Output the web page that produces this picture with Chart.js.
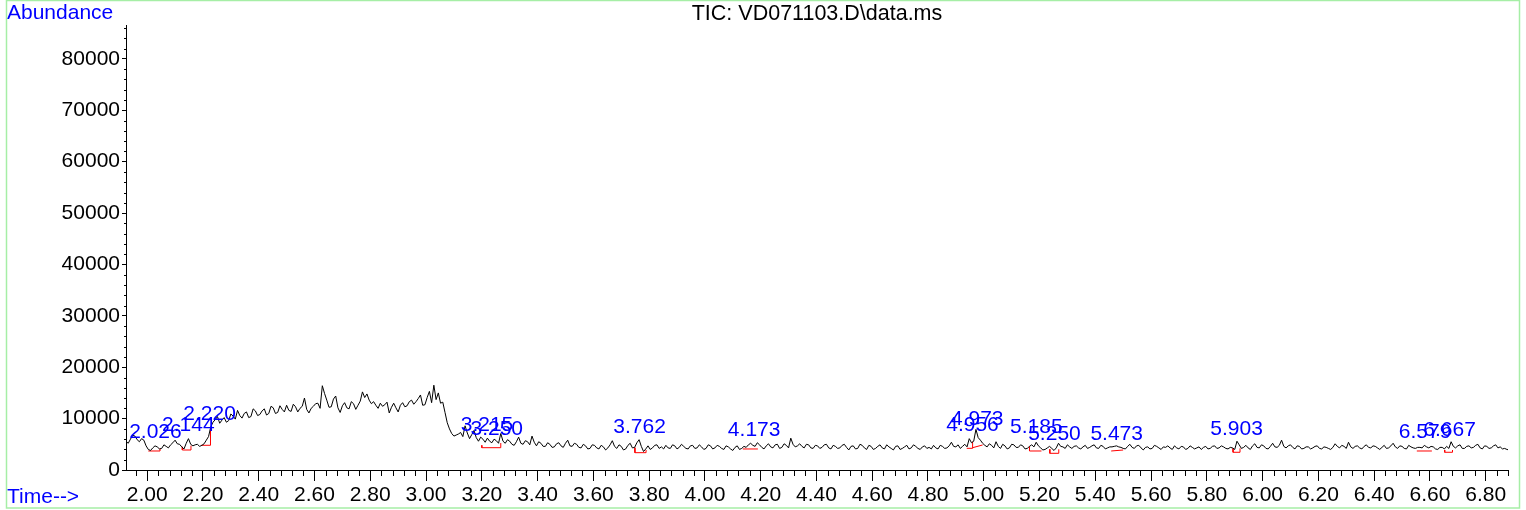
<!DOCTYPE html>
<html>
<head>
<meta charset="utf-8">
<title>TIC: VD071103.D\data.ms</title>
<script src="https://cdn.jsdelivr.net/npm/chart.js@4.4.0/dist/chart.umd.min.js"></script>
<style>
    html, body { margin: 0; padding: 0; background: #ffffff; }
    #wrap { width: 1526px; height: 510px; }
</style>
</head>
<body>
<div id="wrap"><canvas id="tic-chart" width="1526" height="510"></canvas></div>
<script>
// Scan timing of the run (minutes) and the total ion current per scan
const scanStart = 1.924;
const scanStep = 0.008;
const ticAbundance = [
    5600, 5200, 6000, 6800, 6600, 5900, 5500, 6100, 5800, 4700, 4000, 3800, 4300, 4700, 4500, 4100, 4200, 4900, 4600, 4300,
    4900, 5300, 5800, 5100, 5000, 4500, 4100, 5200, 6100, 5000, 4700, 4900, 5000, 4600, 4800, 5100, 5800, 6500, 8400, 9300,
    9800, 10400, 9100, 9700, 10200, 9300, 9600, 10900, 10500, 9900, 11600, 10600, 10100, 11000, 11300, 10200, 10400, 11900, 11500, 10600,
    10800, 11500, 11900, 10700, 11000, 12400, 12100, 11000, 11200, 12500, 11800, 11300, 12600, 11600, 11400, 12800, 12300, 11300, 12000, 12400,
    14000, 11800, 11100, 12000, 12400, 12900, 13000, 12000, 16400, 14900, 13600, 12200, 12300, 13800, 14400, 12100, 11200, 12500, 13100, 12100,
    11900, 13300, 12900, 11800, 12600, 13400, 15200, 14100, 14800, 13600, 12900, 13300, 12600, 12000, 13000, 12400, 12700, 13200, 11100, 12200,
    13000, 12100, 11300, 12600, 13100, 12300, 12500, 13300, 13600, 12800, 13300, 13900, 14600, 12600, 12700, 14100, 15300, 13100, 16500, 13700,
    15000, 13000, 13200, 11200, 9200, 8000, 7100, 6600, 6800, 7000, 7300, 6500, 8600, 7200, 6100, 6900, 7700, 6300, 5600, 6400,
    6000, 5400, 6200, 5600, 5300, 6000, 5700, 5200, 7100, 5600, 5200, 5900, 5600, 5000, 4800, 5500, 6400, 5200, 5000, 5700,
    5500, 4900, 6600, 5400, 4700, 5500, 5200, 4600, 4600, 5300, 5000, 4400, 4500, 5100, 5300, 4700, 4400, 5200, 5800, 4700,
    4600, 5200, 5000, 4400, 4300, 5000, 4700, 4100, 4200, 4900, 4800, 4300, 4100, 4800, 4500, 3900, 4300, 4900, 5700, 4600,
    4200, 4900, 4600, 3900, 4100, 4800, 5200, 4300, 4400, 5300, 5900, 4600, 3600, 4100, 4700, 4000, 4300, 4800, 4900, 4200,
    4500, 4100, 4800, 4300, 4200, 4900, 4700, 4100, 4400, 5000, 4600, 4200, 4100, 4700, 4800, 4200, 4300, 4900, 4500, 4000,
    4200, 4900, 4700, 4100, 4300, 4800, 4600, 4200, 4000, 4700, 4500, 4100, 3800, 4400, 4700, 4000, 4200, 4600, 4400, 4900,
    5200, 4800, 4600, 5300, 4900, 4400, 4100, 4700, 5100, 4500, 4300, 4900, 5000, 4200, 4400, 5100, 4800, 4300, 6200, 5000,
    4500, 4700, 5100, 4600, 4300, 5000, 4900, 4300, 4200, 4800, 4700, 4200, 4400, 4900, 5000, 4300, 4100, 4800, 4600, 4200,
    4300, 4800, 5000, 4400, 3900, 4600, 4700, 4100, 4200, 5000, 4800, 4300, 4000, 4800, 4600, 4000, 4200, 4600, 4900, 4300,
    4100, 4900, 4500, 4200, 3900, 4600, 4700, 4000, 4200, 4500, 4800, 4100, 4300, 4900, 4600, 4200, 4000, 4500, 4700, 4200,
    4400, 4100, 4800, 4300, 4100, 4800, 4600, 4200, 4300, 4700, 5400, 4600, 4500, 4900, 4200, 4600, 5000, 4500, 6100, 5300,
    5600, 7900, 6300, 5800, 5200, 4800, 4500, 5100, 4800, 4300, 5500, 4600, 4200, 5000, 4700, 4100, 4300, 5000, 4900, 4400,
    4400, 4900, 4700, 4100, 4200, 4600, 4900, 4500, 5400, 4700, 4300, 3900, 4000, 4300, 4600, 4200, 3800, 4300, 5200, 4600,
    4500, 4200, 4900, 4500, 4200, 4600, 4700, 4300, 4100, 4500, 4800, 4200, 4400, 4700, 4900, 4300, 4200, 4800, 4600, 4100,
    4300, 4500, 4500, 4600, 4700, 4500, 4400, 4200, 4100, 4600, 5000, 4400, 4200, 4700, 4800, 4300, 3900, 4400, 4500, 4100,
    4200, 4800, 4600, 4300, 4000, 4500, 4400, 4700, 4300, 4000, 4700, 4300, 4100, 4600, 4500, 4000, 4200, 4700, 4400, 4100,
    4300, 4500, 4000, 4400, 4600, 4100, 4200, 4600, 4700, 4200, 4300, 4700, 4500, 4200, 4100, 4400, 4300, 4000, 5600, 4900,
    4200, 4400, 4800, 4300, 4000, 4700, 5100, 4400, 4300, 4900, 4700, 4200, 4100, 4600, 5200, 4500, 4400, 4800, 5800, 4600,
    4300, 4700, 4900, 4400, 4100, 4700, 4600, 4100, 4200, 4500, 4500, 4100, 4300, 4600, 4700, 4200, 4100, 4500, 4400, 4200,
    4000, 4400, 5100, 4600, 4300, 4800, 4600, 4200, 5400, 4500, 4200, 4600, 4700, 4300, 4100, 4600, 4900, 4400, 4300, 4700,
    4600, 4300, 4000, 4400, 4800, 4200, 4300, 4700, 5200, 4500, 4200, 4700, 4600, 4200, 4100, 4800, 4500, 4300, 4200, 4400,
    4400, 4300, 4800, 4500, 4300, 4600, 4500, 4100, 4000, 4400, 4400, 4100, 4600, 4200, 5500, 4600, 4300, 4700, 4900, 4200,
    4200, 4600, 4700, 4300, 4400, 4800, 5000, 4300, 4100, 4700, 4600, 4200, 4300, 4700, 4900, 4300, 4500, 4100, 4200, 4000,
    3900
];

// Integrated peaks: retention time label and the abundance where the label sits
const peakTimes = [2.026, 2.144, 2.220, 3.215, 3.250, 3.762, 4.173, 4.956, 4.973, 5.185, 5.250, 5.473, 5.903, 6.579, 6.667];
const peakLabelHeights = [7300, 8760, 10800, 8660, 7880, 8270, 7690, 8660, 9830, 8270, 6910, 6910, 7880, 7300, 7690];

// Integration baselines (red): start/end time, start/end abundance, and the drop lines at each end
const baseT0 = [2.004, 2.126, 2.193, 3.200, 3.749, 4.136, 4.939, 4.960, 5.164, 5.237, 5.457, 5.894, 6.553, 6.653];
const baseT1 = [2.046, 2.157, 2.227, 3.268, 3.789, 4.190, 4.960, 4.996, 5.207, 5.269, 5.500, 5.919, 6.607, 6.681];
const baseA0 = [3700, 3890, 4810, 4340, 3370, 4090, 4220, 4340, 3700, 3250, 3700, 3450, 3700, 3450];
const baseA1 = [3700, 3890, 4810, 4340, 3370, 4090, 4220, 4870, 3700, 3250, 3890, 3450, 3700, 3450];
const dropA0 = [null, 4500, null, 4800, 4340, null, null, null, 4540, 4030, null, 4220, null, 3890];
const dropA1 = [4220, 4730, 7920, 5250, 3890, null, 5500, null, null, 4030, null, 4220, null, 3890];

const yTickValues = [0, 10000, 20000, 30000, 40000, 50000, 60000, 70000, 80000];

const xMin = 1.924;
const xMax = 6.88;
const yMax = 86600;

const FONT = 'Liberation Sans, Arial, sans-serif';

const tracePoints = ticAbundance.map(function(v, i) {
    return { x: scanStart + i * scanStep, y: v };
});

// one dataset, segments separated by null points
const baselinePoints = [];
for (let i = 0; i < baseT0.length; i++) {
    if (dropA0[i] !== null) baselinePoints.push({ x: baseT0[i], y: dropA0[i] });
    baselinePoints.push({ x: baseT0[i], y: baseA0[i] });
    baselinePoints.push({ x: baseT1[i], y: baseA1[i] });
    if (dropA1[i] !== null) baselinePoints.push({ x: baseT1[i], y: dropA1[i] });
    baselinePoints.push({ x: baseT1[i], y: null });
}

const frame = {
    id: 'frame',
    beforeDraw(chart) {
        const ctx = chart.ctx;
        ctx.save();
        ctx.fillStyle = '#ffffff';
        ctx.fillRect(0, 0, chart.width, chart.height);
        ctx.restore();
    },
    afterDraw(chart) {
        const ctx = chart.ctx;
        const area = chart.chartArea;
        const xs = chart.scales.x;
        const ys = chart.scales.y;
        ctx.save();

        // minor ticks
        ctx.strokeStyle = '#000000';
        ctx.lineWidth = 1;
        ctx.beginPath();
        for (let k = Math.ceil(xMin / 0.04); k * 0.04 <= xMax + 1e-9; k++) {
            if (k % 5 === 0) continue;
            const px = Math.round(xs.getPixelForValue(k * 0.04)) + 0.5;
            ctx.moveTo(px, area.bottom);
            ctx.lineTo(px, area.bottom + 6);
        }
        for (let v = 2000; v <= yMax; v += 2000) {
            if (v % 10000 === 0) continue;
            const py = Math.round(ys.getPixelForValue(v)) + 0.5;
            ctx.moveTo(area.left, py);
            ctx.lineTo(area.left - 2, py);
        }
        ctx.stroke();

        // peak labels
        ctx.fillStyle = '#0000ff';
        ctx.font = '21px ' + FONT;
        ctx.textAlign = 'center';
        ctx.textBaseline = 'middle';
        for (let i = 0; i < peakTimes.length; i++) {
            const px = xs.getPixelForValue(peakTimes[i]);
            const py = ys.getPixelForValue(peakLabelHeights[i]);
            ctx.fillText(peakTimes[i].toFixed(3), px + 1, py);
        }

        // title and axis names
        ctx.font = '21.5px ' + FONT;
        ctx.fillStyle = '#000000';
        ctx.fillText('TIC: VD071103.D\\data.ms', (area.left + area.right) / 2, 14);
        ctx.fillStyle = '#0000ff';
        ctx.font = '21px ' + FONT;
        ctx.textAlign = 'left';
        ctx.fillText('Abundance', 7, 13);
        ctx.fillText('Time-->', 7, 497);

        // green outer frame
        ctx.strokeStyle = '#a6eea6';
        ctx.lineWidth = 1.5;
        ctx.strokeRect(6.5, 0.5, 1513, 507.5);
        ctx.restore();
    }
};

new Chart(document.getElementById('tic-chart'), {
    type: 'line',
    data: {
        datasets: [{
            data: tracePoints,
            borderColor: '#000000',
            borderWidth: 1,
            pointRadius: 0,
            tension: 0,
            spanGaps: false
        }, {
            data: baselinePoints,
            borderColor: '#ff0000',
            borderWidth: 1,
            pointRadius: 0,
            tension: 0,
            spanGaps: false
        }]
    },
    options: {
        responsive: false,
        animation: false,
        events: [],
        layout: {
            padding: { top: 25, right: 18, left: 0, bottom: 0 }
        },
        plugins: {
            legend: { display: false },
            tooltip: { enabled: false },
            title: { display: false }
        },
        scales: {
            x: {
                type: 'linear',
                min: xMin,
                max: xMax,
                afterFit: function(scale) { scale.height = 40; },
                border: { display: true, color: '#000000', width: 1 },
                grid: {
                    display: true,
                    drawOnChartArea: false,
                    drawTicks: true,
                    tickLength: 11,
                    color: '#000000'
                },
                ticks: {
                    stepSize: 0.2,
                    includeBounds: false,
                    autoSkip: false,
                    maxRotation: 0,
                    padding: 2,
                    color: '#000000',
                    font: { family: FONT, size: 21 },
                    callback: function(value) { return Number(value).toFixed(2); }
                }
            },
            y: {
                type: 'linear',
                min: 0,
                max: yMax,
                afterFit: function(scale) { scale.width = 126; },
                // fixed major ticks, 10000 apart
                afterBuildTicks: function(scale) {
                    scale.ticks = yTickValues.map(function(v) { return { value: v }; });
                },
                border: { display: true, color: '#000000', width: 1 },
                grid: {
                    display: true,
                    drawOnChartArea: false,
                    drawTicks: true,
                    tickLength: 4,
                    color: '#000000'
                },
                ticks: {
                    autoSkip: false,
                    padding: 2,
                    color: '#000000',
                    font: { family: FONT, size: 21 },
                    callback: function(value) { return String(value); }
                }
            }
        }
    },
    plugins: [frame]
});
</script>
</body>
</html>
